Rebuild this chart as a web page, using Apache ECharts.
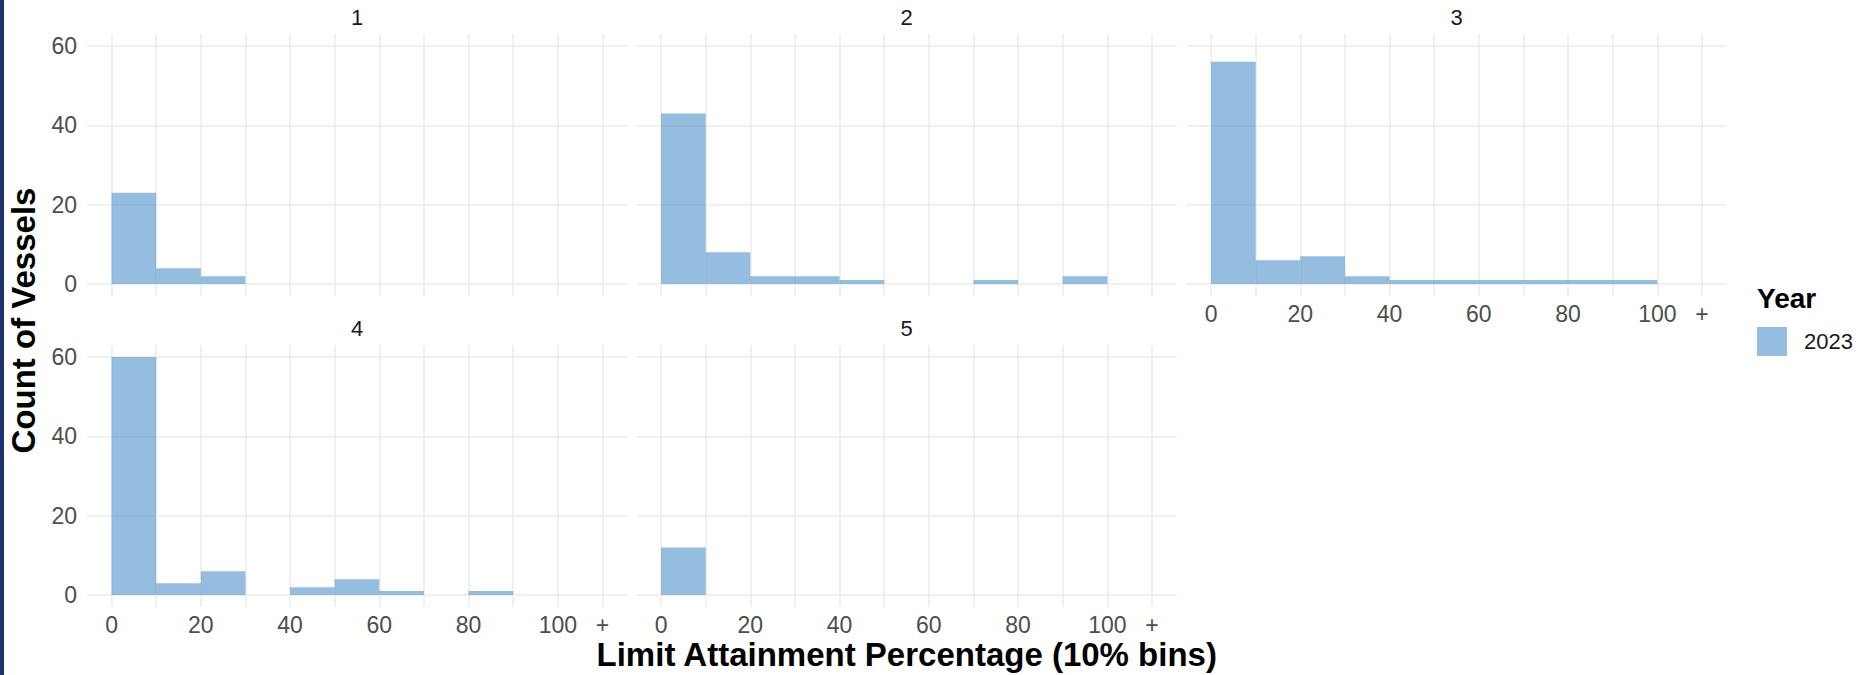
<!DOCTYPE html>
<html>
<head>
<meta charset="utf-8">
<script src="https://cdn.jsdelivr.net/npm/echarts@6/dist/echarts.min.js"></script>
<style>
  html, body { margin: 0; padding: 0; background: #fff; }
  #chart { position: absolute; left: 0; top: 0; width: 1868px; height: 675px; }
  /* dark edge on the left of the original image */
  #edge { position: absolute; left: 0; top: 0; width: 4px; height: 675px; background: #1e3270; z-index: 2; }
</style>
</head>
<body>
<div id="chart"></div>
<div id="edge"></div>
<script>
// bins of 10% (start of each bin), last one is the "100 +" bin
const binStarts = [0, 10, 20, 30, 40, 50, 60, 70, 80, 90, 100]
const binWidth = 10
const panelNames = ['1', '2', '3', '4', '5']
// count of vessels per bin, one array per facet
const counts1 = [23, 4, 2, 0, 0, 0, 0, 0, 0, 0, 0]
const counts2 = [43, 8, 2, 2, 1, 0, 0, 1, 0, 2, 0]
const counts3 = [56, 6, 7, 2, 1, 1, 1, 1, 1, 1, 0]
const counts4 = [60, 3, 6, 0, 2, 4, 1, 0, 1, 0, 0]
const counts5 = [12, 0, 0, 0, 0, 0, 0, 0, 0, 0, 0]
const allCounts = [counts1, counts2, counts3, counts4, counts5]
// tick values
const xGridValues = [0, 10, 20, 30, 40, 50, 60, 70, 80, 90, 100, 110]
const xLabelValues = [0, 20, 40, 60, 80, 100, 110]
const yTickValues = [0, 20, 40, 60]
const seriesName = '2023'

// layout of the facet panels
const colLeft = [87, 636.5, 1186.5]
const rowTop = [34, 345]
const panelW = 540
const panelH = 262

const barColor = 'rgba(77, 145, 203, 0.6)'
const gridColor = '#ebebeb'
const font = 'Liberation Sans, Arial, sans-serif'

const chart = echarts.init(document.getElementById('chart'), null, { renderer: 'svg' })

const grids = []
const xAxes = []
const yAxes = []
const series = []
const texts = []

allCounts.forEach((counts, i) => {
  const col = i % 3
  const row = Math.floor(i / 3)
  // x labels only where nothing sits below the panel
  const showX = row === 1 || col === 2
  const showY = col === 0
  grids.push({
    left: colLeft[col],
    top: rowTop[row],
    width: panelW,
    height: panelH,
    outerBoundsMode: 'none'
  })
  xAxes.push({
    gridIndex: i,
    type: 'value',
    min: -5.5,
    max: 115.5,
    axisLine: { show: false },
    axisTick: { show: false, customValues: xGridValues },
    axisLabel: {
      show: showX,
      customValues: xLabelValues,
      formatter: v => (v === 110 ? '+' : String(v)),
      color: '#4d4d4d',
      fontSize: 23,
      fontFamily: font,
      margin: 6
    },
    splitLine: { show: true, lineStyle: { color: gridColor, width: 1.5 } }
  })
  yAxes.push({
    gridIndex: i,
    type: 'value',
    min: -3,
    max: 63,
    axisLine: { show: false },
    axisTick: { show: false, customValues: yTickValues },
    axisLabel: {
      show: showY,
      customValues: yTickValues,
      color: '#4d4d4d',
      fontSize: 23,
      fontFamily: font,
      margin: 10
    },
    splitLine: { show: true, lineStyle: { color: gridColor, width: 1.5 } }
  })
  series.push({
    type: 'custom',
    name: seriesName,
    xAxisIndex: i,
    yAxisIndex: i,
    itemStyle: { color: barColor },
    encode: { x: [0, 1], y: 2 },
    data: binStarts
      .map((b, k) => [b, b + binWidth, counts[k]])
      .filter(d => d[2] > 0),
    renderItem: function (params, api) {
      const top = api.coord([api.value(0), api.value(2)])
      const base = api.coord([api.value(1), 0])
      return {
        type: 'rect',
        shape: { x: top[0], y: top[1], width: base[0] - top[0], height: base[1] - top[1] },
        style: { fill: barColor }
      }
    }
  })
  // facet strip label
  texts.push({
    type: 'text',
    x: colLeft[col] + panelW / 2,
    y: rowTop[row] - 17,
    style: {
      text: panelNames[i],
      fill: '#1a1a1a',
      font: '22px ' + font,
      textAlign: 'center',
      textVerticalAlign: 'middle'
    }
  })
})

// axis titles and legend title
texts.push({
  type: 'text',
  x: (colLeft[0] + colLeft[2] + panelW) / 2,
  y: 654,
  style: {
    text: 'Limit Attainment Percentage (10% bins)',
    fill: '#000',
    font: 'bold 33px ' + font,
    textAlign: 'center',
    textVerticalAlign: 'middle'
  }
})
texts.push({
  type: 'text',
  x: 23,
  y: (rowTop[0] + rowTop[1] + panelH) / 2,
  rotation: Math.PI / 2,
  style: {
    text: 'Count of Vessels',
    fill: '#000',
    font: 'bold 33px ' + font,
    textAlign: 'center',
    textVerticalAlign: 'middle'
  }
})
texts.push({
  type: 'text',
  x: 1757,
  y: 298,
  style: {
    text: 'Year',
    fill: '#000',
    font: 'bold 28px ' + font,
    textAlign: 'left',
    textVerticalAlign: 'middle'
  }
})

const option = {
  animation: false,
  backgroundColor: '#fff',
  grid: grids,
  xAxis: xAxes,
  yAxis: yAxes,
  legend: {
    data: [seriesName],
    left: 1757,
    top: 327,
    padding: 0,
    orient: 'vertical',
    icon: 'rect',
    itemWidth: 30,
    itemHeight: 29,
    selectedMode: false,
    textStyle: { fontSize: 22, color: '#1a1a1a', fontFamily: font, padding: [0, 0, 0, 12] }
  },
  graphic: texts,
  series: series
}
chart.setOption(option)
window.addEventListener('resize', function () {
  chart.resize()
})
</script>
</body>
</html>
